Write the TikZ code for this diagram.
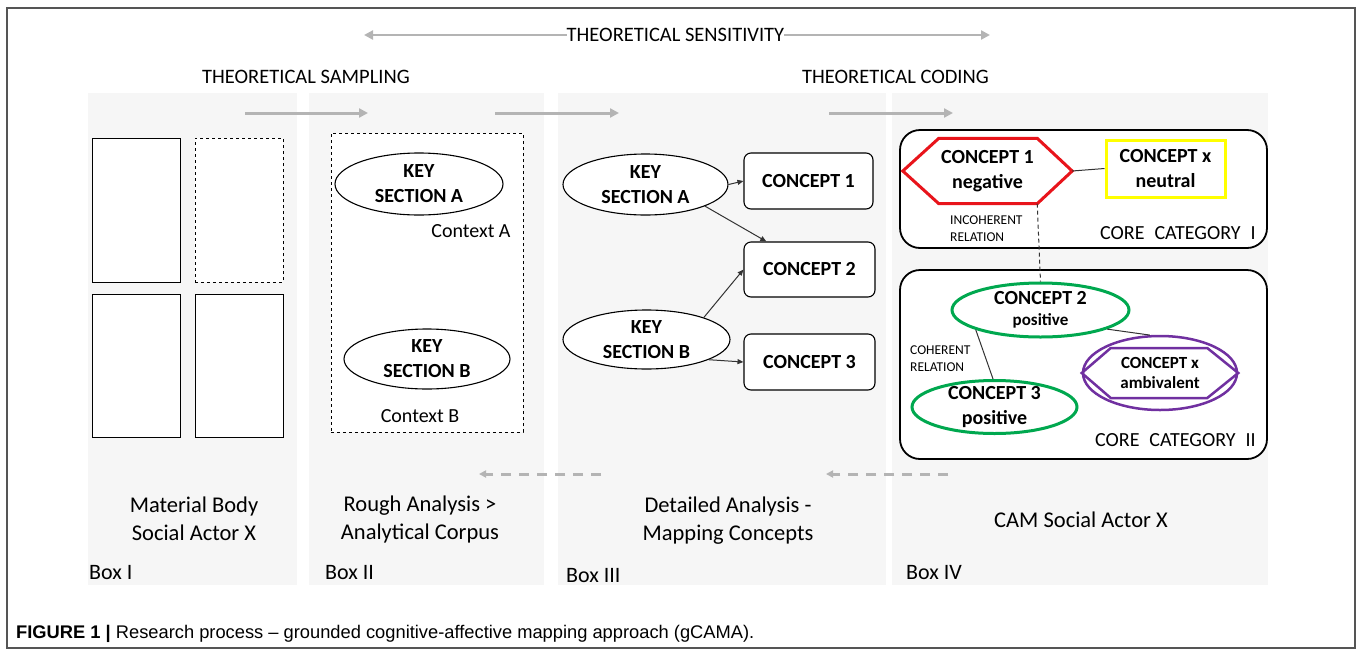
\documentclass[tikz,border=0pt]{standalone}
\usepackage{fontspec}
\setmainfont{Carlito}
\newfontfamily\capfont{Liberation Sans}
\usetikzlibrary{arrows.meta,shapes.geometric,calc}

\definecolor{panelgray}{HTML}{F6F6F6}
\definecolor{flowgray}{HTML}{B4B4B4}
\definecolor{framegray}{HTML}{555555}
\definecolor{negred}{HTML}{E8141B}
\definecolor{neuyellow}{HTML}{FFFF00}
\definecolor{posgreen}{HTML}{00A84F}
\definecolor{ambpurple}{HTML}{7030A0}

\tikzset{
  panel/.style={fill=panelgray, draw=none},
  flow/.style={draw=flowgray, line width=3pt, -{Triangle[length=9pt,width=9pt]}},
  backflow/.style={draw=flowgray, line width=3pt, dash pattern=on 10pt off 8pt,
    -{Triangle[length=7pt,width=7pt]}},
  heading/.style={font=\fontsize{20.5}{24}\selectfont, inner sep=0pt},
  boxlabel/.style={font=\fontsize{22}{22}\selectfont, anchor=west, inner sep=0pt},
  stagetext/.style={font=\fontsize{22.5}{28}\selectfont, align=center, inner sep=0pt},
  keysec/.style={ellipse, draw, line width=1.1pt, inner sep=-30pt, fill=white,
    font=\bfseries\fontsize{20}{25}\selectfont, align=center},
  concbox/.style={rectangle, rounded corners=7pt, draw, line width=1.1pt, fill=white,
    font=\bfseries\fontsize{20}{25}\selectfont, inner sep=0pt},
  docsheet/.style={rectangle, draw, line width=1pt, fill=white, inner sep=0pt,
    minimum width=88pt, minimum height=144pt},
  catbox/.style={rectangle, rounded corners=20pt, draw, line width=1.8pt, inner sep=0pt},
  catlabel/.style={font=\fontsize{20}{20}\selectfont, anchor=south east, inner sep=0pt},
  relnote/.style={font=\fontsize{13.5}{17}\selectfont, align=left, anchor=west, inner sep=0pt},
  cogtext/.style={font=\bfseries\fontsize{20}{25}\selectfont, align=center, inner sep=0pt},
  posnode/.style={ellipse, draw=posgreen, line width=3pt, fill=white, inner sep=-30pt,
    align=center},
  link/.style={draw=black!80, line width=1pt},
  tip/.style={-{Triangle[length=6pt,width=5pt]}},
}

\begin{document}
\begin{tikzpicture}[x=1pt, y=-1pt]
\useasboundingbox (0,0) rectangle (1358,654);

% outer frame
\draw[framegray, line width=1.3pt] (7,8) rectangle (1355,648);

% stage panels
\fill[panel] (88,93) rectangle (297,585);
\fill[panel] (309,93) rectangle (544,585);
\fill[panel] (558,93) rectangle (886,585);
\fill[panel] (892,93) rectangle (1268,585);

% theoretical sensitivity, spanning both directions
\node[heading] (sens) at (675.5,35) {THEORETICAL SENSITIVITY};
\coordinate (sensL) at (364,35);
\coordinate (sensR) at (990,35);
\draw[flow, line width=2.5pt] (sens.west) -- (sensL);
\draw[flow, line width=2.5pt] (sens.east) -- (sensR);

\node[heading] (samp) at (306,77) {THEORETICAL SAMPLING};
\node[heading] (cod) at (895.5,77) {THEORETICAL CODING};

% forward flow between stages
\coordinate (f1a) at (245,113); \coordinate (f1b) at (368,113);
\coordinate (f2a) at (495,113); \coordinate (f2b) at (619,113);
\coordinate (f3a) at (829,113); \coordinate (f3b) at (953,113);
\draw[flow] (f1a) -- (f1b);
\draw[flow] (f2a) -- (f2b);
\draw[flow] (f3a) -- (f3b);

% backward flow
\coordinate (b1a) at (601,474); \coordinate (b1b) at (479,474);
\coordinate (b2a) at (948,474); \coordinate (b2b) at (826,474);
\draw[backflow] (b1a) -- (b1b);
\draw[backflow] (b2a) -- (b2b);

% ---- Box I: material body
\node[docsheet] (d1) at (136.5,210) {};
\node[docsheet, dashed] (d2) at (239,210) {};
\node[docsheet, minimum height=143pt] (d3) at (136.5,365.5) {};
\node[docsheet, minimum height=143pt] (d4) at (239,365.5) {};

% ---- Box II: analytical corpus
\node[rectangle, draw, dashed, line width=1pt, fill=white,
      minimum width=192pt, minimum height=299pt] (corpus) at (427,282.5) {};
\node[keysec, minimum width=168pt, minimum height=62pt] (kA) at (419,184) {KEY\\SECTION A};
\node[keysec, minimum width=166pt, minimum height=60pt] (kB) at (427,359) {KEY\\SECTION B};
\node[font=\fontsize{20}{20}\selectfont, inner sep=0pt] (ctxA) at (471,231) {Context A};
\node[font=\fontsize{20}{20}\selectfont, inner sep=0pt] (ctxB) at (420,416) {Context B};

% ---- Box III: mapping concepts
\node[keysec, minimum width=165pt, minimum height=61pt] (mA) at (645.5,184.5) {KEY\\SECTION A};
\node[keysec, minimum width=167pt, minimum height=59pt] (mB) at (646.5,339.5) {KEY\\SECTION B};
\node[concbox, minimum width=129pt, minimum height=56pt] (m1) at (808.5,181) {CONCEPT 1};
\node[concbox, minimum width=131pt, minimum height=55pt] (m2) at (809.5,269.5) {CONCEPT 2};
\node[concbox, minimum width=131pt, minimum height=56pt] (m3) at (809.5,362) {CONCEPT 3};
\draw[link, tip] (mA.east) -- (m1.west);
\draw[link, tip] (mA.-20) -- (m2.147);
\draw[link, tip] (mB.21) -- (m2.west);
\draw[link, tip] (mB.-18) -- (m3.west);

% ---- Box IV: cognitive-affective map
\node[catbox, fill=white, minimum width=367pt, minimum height=118pt] (cat1) at (1083.5,189) {};
\node[catbox, fill=white, minimum width=367pt, minimum height=189pt] (cat2) at (1083.5,364.5) {};
\node[catlabel] (cat1lbl) at ($(cat1.south east)+(-12,-9)$) {CORE\hspace{0.5em}CATEGORY\hspace{0.5em}I};
\node[catlabel] (cat2lbl) at ($(cat2.south east)+(-12,-13)$) {CORE\hspace{0.5em}CATEGORY\hspace{0.5em}II};

% negative concept: elongated hexagon
\node[cogtext, minimum width=169pt, minimum height=65pt] (c1) at (987.5,171) {CONCEPT 1\\negative};
\draw[negred, line width=3pt, line join=miter]
  (c1.west) -- ($(c1.north west)+(36,0)$) -- ($(c1.north east)+(-35,0)$) -- (c1.east)
  -- ($(c1.south east)+(-35,0)$) -- ($(c1.south west)+(36,0)$) -- cycle;
\coordinate (c1foot) at ($(c1.south east)+(-35,0)$);

% neutral concept
\node[rectangle, draw=neuyellow, line width=3pt, fill=white, cogtext,
      minimum width=119pt, minimum height=57pt] (cx) at (1165.5,168.5) {CONCEPT x\\neutral};
\draw[link] (c1.east) -- (cx.west);

% positive concepts
\node[posnode, minimum width=177pt, minimum height=54pt,
      font=\bfseries\fontsize{20}{23}\selectfont] (c2) at (1040.5,310)
      {CONCEPT 2\\[-2pt]{\fontsize{17}{17}\selectfont positive}};
\node[posnode, minimum width=165pt, minimum height=53pt,
      font=\bfseries\fontsize{20}{25}\selectfont] (c3) at (994.5,407) {CONCEPT 3\\positive};

% ambivalent concept: hexagon inside an ellipse
\node[ellipse, draw=ambpurple, line width=2.5pt, fill=white, inner sep=-30pt,
      minimum width=154pt, minimum height=74pt, align=center,
      font=\bfseries\fontsize{17}{20}\selectfont] (ca) at (1160,373) {CONCEPT x\\ambivalent};
\draw[ambpurple, line width=2.5pt, line join=miter]
  (ca.west) -- ($(ca.west)+(29,-25)$) -- ($(ca.east)+(-31,-25)$) -- (ca.east)
  -- ($(ca.east)+(-31,25)$) -- ($(ca.west)+(29,25)$) -- cycle;

% relations
\draw[link, dashed, dash pattern=on 4pt off 3pt] (c1foot) -- (c2.north);
\draw[link] (c2.197) -- (c3.93);
\draw[link] (c2.-16) -- (ca.105);

\node[relnote] (incoh) at (950,228.5) {INCOHERENT\\RELATION};
\node[relnote] (coh) at (910,358.5) {COHERENT\\RELATION};

% ---- stage captions
\node[stagetext] (t1) at (194,519) {Material Body\\Social Actor X};
\node[stagetext] (t2) at (420,519) {Rough Analysis \textgreater\\Analytical Corpus};
\node[stagetext] (t3) at (728,521) {Detailed Analysis -\\Mapping Concepts};
\node[stagetext] (t4) at (1081,520) {CAM Social Actor X};

\node[boxlabel] (bx1) at (89,573) {Box I};
\node[boxlabel] (bx2) at (325,573) {Box II};
\node[boxlabel] (bx3) at (566,576) {Box III};
\node[boxlabel] (bx4) at (906,573) {Box IV};

% ---- figure caption
\node[anchor=base west, inner sep=0pt, font=\capfont\fontsize{18.3}{18.3}\selectfont] (fig)
  at (16,638) {\textbf{FIGURE 1 |} Research process – grounded cognitive-affective mapping approach (gCAMA).};
\end{tikzpicture}
\end{document}
